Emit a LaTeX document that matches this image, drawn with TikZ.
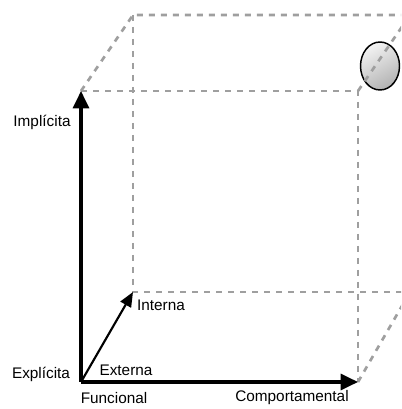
\documentclass[tikz,border=0pt]{standalone}
\usepackage{fontspec}
\newfontfamily\axisfont{Liberation Sans}
\usetikzlibrary{arrows.meta}

\tikzset{
  edgeline/.style={gray!75, line width=2pt, dash pattern=on 4.5pt off 4.5pt},
  mainaxis/.style={line width=2.4pt, -{Triangle[length=13pt,width=12pt]}},
  depthaxis/.style={line width=1.6pt, -{Triangle[length=11pt,width=9pt]}},
}

\begin{document}
\begin{tikzpicture}[x=0.75pt, y=0.75pt, every node/.style={font=\axisfont\fontsize{11.5}{13}\selectfont, inner sep=0pt}]
	\useasboundingbox (0,0) rectangle (401,409);
	\clip (0,0) rectangle (401,409);
	% corners of the box
	\coordinate (O) at (81,27);
	\coordinate (frontBR) at (358,27);
	\coordinate (frontTL) at (81,318);
	\coordinate (frontTR) at (358,318);
	\coordinate (backBL) at (133,117);
	\coordinate (backTL) at (133,394);
	\coordinate (backBR) at (410,117);
	\coordinate (backTR) at (410,394);
	% the object in the far corner
	\shade[top color=gray!10, bottom color=gray!60, shading angle=30, draw=black, line width=1.1pt] (380,343) ellipse (19.5 and 24);
	% dashed edges
	\draw[edgeline] (frontTL) -- (frontTR) -- (frontBR);
	\draw[edgeline] (frontTL) -- (backTL) -- (backTR);
	\draw[edgeline] (backTL) -- (backBL) -- (backBR);
	\draw[edgeline] (frontTR) -- (backTR);
	\draw[edgeline] (frontBR) -- (backBR);
	% axes
	\draw[mainaxis] (O) -- (frontBR);
	\draw[mainaxis] (O) -- (frontTL);
	\draw[depthaxis] (O) -- (backBL);
	% labels
	\node (implicita) at (42,287) {Implícita};
	\node (explicita) at (41,35) {Explícita};
	\node (funcional) at (114,11) {Funcional};
	\node (comportamental) at (292,11) {Comportamental};
	\node (interna) at (161,104) {Interna};
	\node (externa) at (126,39) {Externa};
\end{tikzpicture}
\end{document}
